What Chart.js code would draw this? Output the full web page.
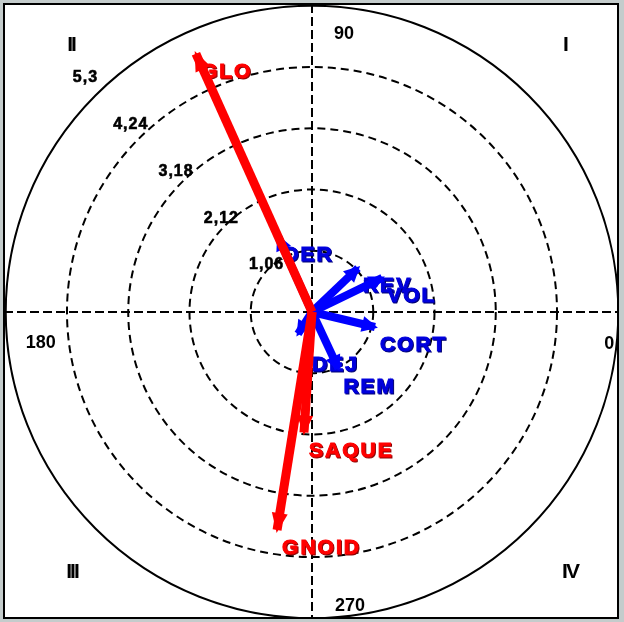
<!DOCTYPE html>
<html>
<head>
<meta charset="utf-8">
<script src="https://cdn.jsdelivr.net/npm/chart.js@4.4.1/dist/chart.umd.min.js"></script>
<style>
  html, body { margin: 0; padding: 0; background: #c4cccc; }
  #wrap { width: 624px; height: 622px; }
</style>
</head>
<body>
<div id="wrap"><canvas id="polar" width="624" height="622"></canvas></div>
<script>
// polar grid rings, same unit as the vectors
const rings = [1.06, 2.12, 3.18, 4.24, 5.3];
const ringLabels = ['1,06', '2,12', '3,18', '4,24', '5,3'];
const angleLabels = ['0', '90', '180', '270'];
const quadrantLabels = ['I', 'II', 'III', 'IV'];

// red vectors (angle in degrees, counter-clockwise from 0 on the right)
const redNames = ['GLO', 'SAQUE', 'GNOID'];
const redAngles = [114.2, 266.2, 260.9];
const redLengths = [4.90, 2.09, 3.82];

// blue vectors
const blueNames = ['DER', 'REV', 'VOL', 'CORT', 'REM', 'DEJ'];
const blueAngles = [114.2, 43.7, 25.9, 346.6, 295, 237.5];
const blueLengths = [1.42, 1.10, 1.35, 1.12, 1.08, 0.45];

const RED = '#ff0000', RED_SHADE = '#8a0000';
const BLUE = '#0000ff', BLUE_TEXT = '#0000dd', BLUE_SHADE = '#000070';

function vec(angle, len) {
    const a = angle * Math.PI / 180;
    return [{x: 0, y: 0}, {x: len * Math.cos(a), y: len * Math.sin(a)}];
}

const datasets = [];
// red first so they end up on top of the blue ones
redNames.forEach((name, i) => {
    datasets.push({
        label: name, data: vec(redAngles[i], redLengths[i]),
        showLine: true, borderColor: RED, borderWidth: 9, pointRadius: 0,
        textColor: RED, textShade: RED_SHADE, headLen: 20, headHalf: 8
    });
});
blueNames.forEach((name, i) => {
    datasets.push({
        label: name, data: vec(blueAngles[i], blueLengths[i]),
        showLine: true, borderColor: BLUE, borderWidth: 8, pointRadius: 0,
        textColor: BLUE_TEXT, textShade: BLUE_SHADE, headLen: 16, headHalf: 8
    });
});

// a label that sits a bit away from its tip in the original
const labelNudge = { DEJ: [9, 13] };

function shadedText(ctx, text, x, y, color, shade) {
    ctx.lineWidth = 1;
    ctx.fillStyle = shade;
    ctx.strokeStyle = shade;
    ctx.fillText(text, x + 1, y + 1);
    ctx.strokeText(text, x + 1, y + 1);
    ctx.fillStyle = color;
    ctx.strokeStyle = color;
    ctx.fillText(text, x, y);
    ctx.strokeText(text, x, y);
}

const polarGrid = {
    id: 'polarGrid',
    beforeDraw(chart) {
        const ctx = chart.ctx;
        ctx.save();
        ctx.fillStyle = '#c4cccc';
        ctx.fillRect(0, 0, chart.width, chart.height);
        ctx.fillStyle = '#ffffff';
        ctx.fillRect(4, 4, 614, 614);
        ctx.strokeStyle = '#000';
        ctx.lineWidth = 2;
        ctx.strokeRect(4, 4, 614, 614);
        ctx.restore();
    },
    beforeDatasetsDraw(chart) {
        const ctx = chart.ctx;
        const xs = chart.scales.x, ys = chart.scales.y;
        const cx = xs.getPixelForValue(0), cy = ys.getPixelForValue(0);
        const px = v => xs.getPixelForValue(v) - cx;
        const rOut = px(rings[rings.length - 1]);
        ctx.save();
        ctx.beginPath();
        ctx.rect(5, 5, 612, 612);
        ctx.clip();

        // dashed axes
        ctx.strokeStyle = '#000';
        ctx.lineWidth = 2;
        ctx.setLineDash([9, 4]);
        ctx.beginPath();
        ctx.moveTo(4, cy); ctx.lineTo(620, cy);
        ctx.moveTo(cx, 4); ctx.lineTo(cx, 620);
        ctx.stroke();

        // rings
        rings.forEach((r, i) => {
            ctx.setLineDash(i === rings.length - 1 ? [] : [8, 5]);
            ctx.beginPath();
            ctx.arc(cx, cy, px(r), 0, Math.PI * 2);
            ctx.stroke();
        });
        ctx.setLineDash([]);

        // ring values along the upper-left diagonal
        ctx.fillStyle = '#000';
        ctx.strokeStyle = '#000';
        ctx.lineWidth = 0.6;
        ctx.font = 'bold 16px "Liberation Sans", Arial, sans-serif';
        ctx.letterSpacing = '1px';
        ctx.textAlign = 'center';
        ctx.textBaseline = 'middle';
        const la = 134 * Math.PI / 180;
        rings.forEach((r, i) => {
            const d = px(r) * 1.065;
            const x = cx + d * Math.cos(la), y = cy - d * Math.sin(la);
            ctx.fillText(ringLabels[i], x, y);
            ctx.strokeText(ringLabels[i], x, y);
        });

        // angle labels
        ctx.letterSpacing = '0px';
        ctx.font = 'bold 18px "Liberation Sans", Arial, sans-serif';
        ctx.fillText(angleLabels[0], cx + rOut - 9, cy + 32);
        ctx.fillText(angleLabels[1], cx + 32, cy - rOut + 28);
        ctx.fillText(angleLabels[2], cx - rOut + 35, cy + 31);
        ctx.fillText(angleLabels[3], cx + 38, cy + rOut - 12);

        // quadrant numbers
        ctx.font = 'bold 21px "Liberation Sans", Arial, sans-serif';
        ctx.letterSpacing = '-2px';
        ctx.fillText(quadrantLabels[0], cx + 253, cy - 267);
        ctx.fillText(quadrantLabels[1], cx - 241, cy - 267);
        ctx.fillText(quadrantLabels[2], cx - 240, cy + 260);
        ctx.fillText(quadrantLabels[3], cx + 258, cy + 260);

        // vector names next to the tips
        ctx.font = 'bold 21px "Liberation Sans", Arial, sans-serif';
        ctx.letterSpacing = '2px';
        ctx.textAlign = 'left';
        ctx.textBaseline = 'top';
        chart.data.datasets.forEach((ds, i) => {
            const tip = chart.getDatasetMeta(i).data[1];
            const n = labelNudge[ds.label] || [0, 0];
            shadedText(ctx, ds.label, tip.x + 5 + n[0], tip.y + 8 + n[1], ds.textColor, ds.textShade);
        });
        ctx.restore();
    },
    afterDatasetDraw(chart, args) {
        const ds = chart.data.datasets[args.index];
        const pts = args.meta.data;
        const ctx = chart.ctx;
        const dx = pts[1].x - pts[0].x, dy = pts[1].y - pts[0].y;
        const len = Math.hypot(dx, dy) || 1;
        const ux = dx / len, uy = dy / len;
        const tx = pts[1].x + ux * 3, ty = pts[1].y + uy * 3;
        const bx = tx - ux * ds.headLen, by = ty - uy * ds.headLen;
        ctx.save();
        ctx.fillStyle = ds.borderColor;
        ctx.beginPath();
        ctx.moveTo(tx, ty);
        ctx.lineTo(bx - uy * ds.headHalf, by + ux * ds.headHalf);
        ctx.lineTo(bx + uy * ds.headHalf, by - ux * ds.headHalf);
        ctx.closePath();
        ctx.fill();
        ctx.restore();
    }
};

new Chart(document.getElementById('polar'), {
    type: 'scatter',
    data: { datasets: datasets },
    options: {
        responsive: false,
        animation: false,
        events: [],
        layout: { padding: { left: 4, top: 4, right: 4, bottom: 2 } },
        plugins: { legend: { display: false }, tooltip: { enabled: false } },
        scales: {
            x: { type: 'linear', min: -5.33, max: 5.33, display: false },
            y: { type: 'linear', min: -5.33, max: 5.33, display: false }
        }
    },
    plugins: [polarGrid]
});
</script>
</body>
</html>
